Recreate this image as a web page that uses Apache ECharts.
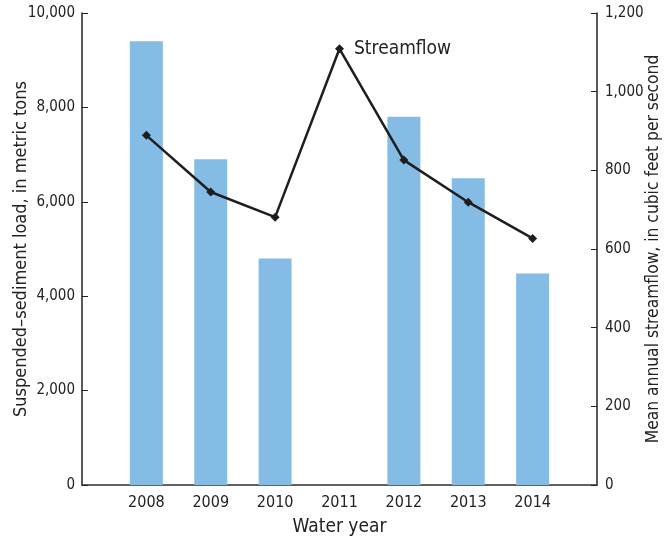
<!DOCTYPE html>
<html><head><meta charset="utf-8">
<script src="https://cdn.jsdelivr.net/npm/echarts@6/dist/echarts.min.js"></script>
<style>html,body{margin:0;padding:0;background:#fff}#c{width:669px;height:541px}</style>
</head><body><div id="c"></div>
<script>
const years = ['2007','2008','2009','2010','2011','2012','2013','2014','2015'];
const shownYears = ['2008','2009','2010','2011','2012','2013','2014'];
const sedimentLoad = [null, 9400, 6900, 4800, null, 7800, 6500, 4480, null];
const streamflow = [null, 889, 745, 681, 1109, 826, 719, 627, null];
const leftTicks = [0, 2000, 4000, 6000, 8000, 10000];
const rightTicks = [0, 200, 400, 600, 800, 1000, 1200];

const FONT = "'Liberation Sans Narrow','DejaVu Sans Condensed','Roboto',sans-serif";
const fmt = v => v.toLocaleString('en-US');
const chart = echarts.init(document.getElementById('c'));
chart.setOption({
  animation: false,
  grid: {left: 82, right: 72, top: 13, bottom: 56, containLabel: false, outerBoundsMode: 'none'},
  xAxis: [{
    type: 'category', data: years, boundaryGap: false,
    axisLine: {lineStyle: {color: '#222', width: 1.5}},
    axisTick: {show: false},
    axisLabel: {fontFamily: FONT, fontSize: 16, color: '#222', margin: 10,
      formatter: v => shownYears.includes(v) ? v : ''},
    name: 'Water year', nameLocation: 'middle', nameGap: 33,
    nameTextStyle: {fontFamily: FONT, fontSize: 19, color: '#222'}
  }, {
    type: 'category', data: years, boundaryGap: false, position: 'top',
    axisLine: {lineStyle: {color: '#666', width: 1.5}},
    axisTick: {show: false}, axisLabel: {show: false}
  }],
  yAxis: [{
    type: 'value', min: 0, max: 10000, interval: 2000,
    axisLine: {show: true, lineStyle: {color: '#222', width: 1.5}},
    axisTick: {show: true, inside: true, length: 6, lineStyle: {color: '#222'}},
    splitLine: {show: false},
    axisLabel: {fontFamily: FONT, fontSize: 15, color: '#222', margin: 7, formatter: fmt},
    name: 'Suspended–sediment load, in metric tons', nameLocation: 'middle', nameGap: 52,
    nameMoveOverlap: false,
    nameTextStyle: {fontFamily: FONT, fontSize: 18, color: '#222'}
  }, {
    type: 'value', min: 0, max: 1200, interval: 200, position: 'right',
    axisLine: {show: true, lineStyle: {color: '#222', width: 1.5}},
    axisTick: {show: true, inside: true, length: 6, lineStyle: {color: '#222'}},
    splitLine: {show: false},
    axisLabel: {fontFamily: FONT, fontSize: 15, color: '#222', margin: 8, formatter: fmt},
    name: 'Mean annual streamflow, in cubic feet per second', nameLocation: 'middle', nameGap: 48,
    nameRotate: 90, nameMoveOverlap: false,
    nameTextStyle: {fontFamily: FONT, fontSize: 17.3, color: '#222'}
  }],
  series: [{
    type: 'bar', data: sedimentLoad, barWidth: 33, yAxisIndex: 0,
    itemStyle: {color: '#85BCE5'}
  }, {
    type: 'line', data: streamflow.map((v, i) => years[i] === '2011' ? {value: v, label: {show: true, position: 'right', distance: 10, formatter: 'Streamflow', fontFamily: FONT, fontSize: 19, color: '#222'}} : v),
    yAxisIndex: 1, connectNulls: false,
    symbol: 'diamond', symbolSize: 9, showSymbol: true,
    itemStyle: {color: '#1e1e1e'},
    lineStyle: {color: '#1e1e1e', width: 2.5}
  }]
});
</script></body></html>
